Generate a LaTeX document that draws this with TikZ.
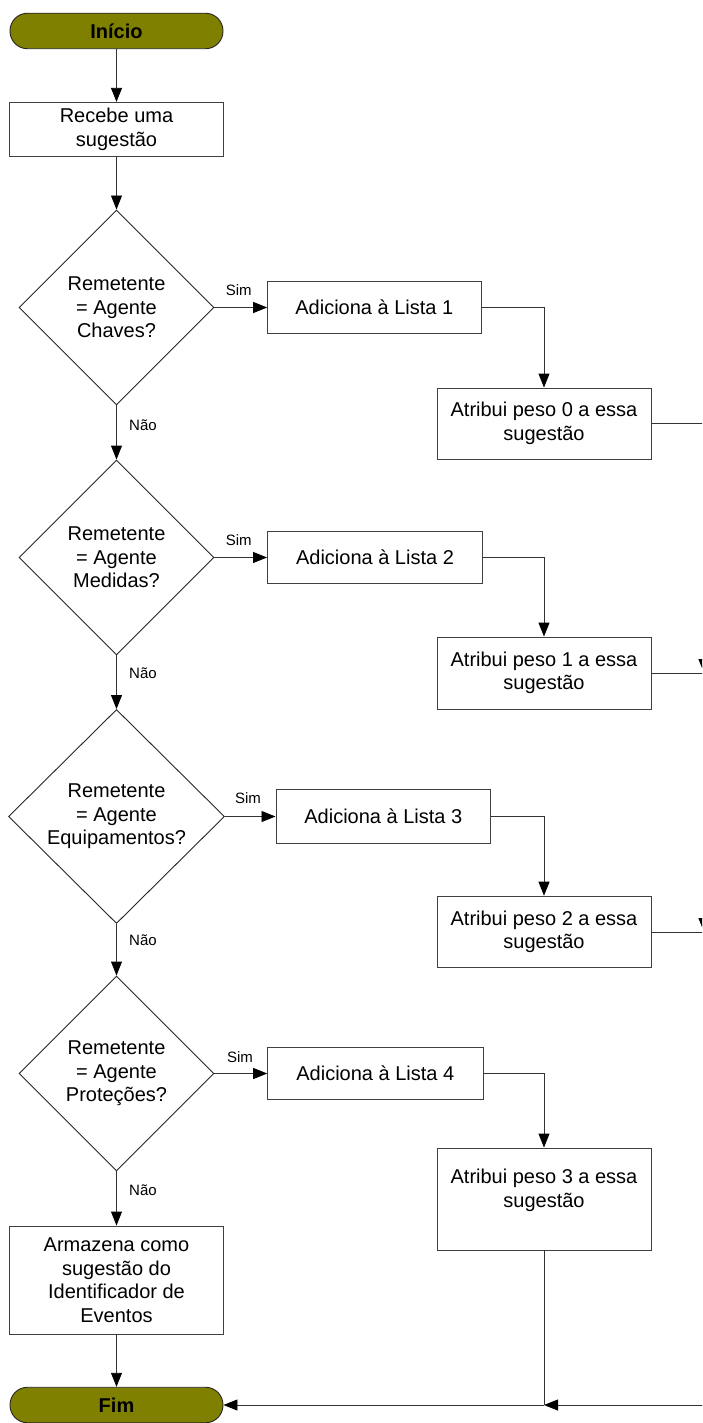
\documentclass[tikz,border=0pt]{standalone}
\usepackage{fontspec}
\setmainfont{Liberation Sans}
\usetikzlibrary{shapes.geometric,arrows.meta}
\definecolor{olivefill}{HTML}{808000}
\begin{document}
\begin{tikzpicture}[x=1pt,y=-1pt,
 every node/.style={font=\fontsize{20}{23.5}\selectfont, inner sep=0pt},
 box/.style={draw=black!75, line width=0.9pt, fill=white, minimum width=214pt, align=center},
 term/.style={draw=black!85, line width=0.9pt, fill=olivefill, rounded corners=17.5pt, minimum width=213pt, minimum height=35.5pt, font=\fontsize{20}{23.5}\selectfont\bfseries},
 dec/.style={diamond, draw=black!85, line width=0.9pt, fill=white, minimum width=195pt, minimum height=195pt, align=center},
 lbl/.style={font=\fontsize{15}{17}\selectfont},
 conn/.style={draw=black!80, line width=0.9pt},
 arr/.style={conn, -{Triangle[length=14pt,width=11pt,color=black]}},
]
\useasboundingbox (0,0) rectangle (702,1423);
\clip (0,0) rectangle (702,1423);

% left column
\node[term] (ini) at (116.5,31) {Início};
\node[box, minimum height=54pt] (rec) at (116.5,129.3) {Recebe uma\\sugestão};
\node[dec] (d1) at (116.5,307.5) {Remetente\\= Agente\\Chaves?};
\node[dec] (d2) at (116.5,557.5) {Remetente\\= Agente\\Medidas?};
\node[dec, minimum width=216pt, minimum height=214pt] (d3) at (116.5,816.5) {Remetente\\= Agente\\Equipamentos?};
\node[dec] (d4) at (116.5,1073.5) {Remetente\\= Agente\\Proteções?};
\node[box, minimum height=108pt] (arm) at (116.5,1280) {Armazena como\\sugestão do\\Identificador de\\Eventos};
\node[term] (fim) at (116.5,1405) {Fim};

% middle column
\node[box, minimum width=213.3pt, minimum height=52pt] (a1) at (374.3,307.5) {Adiciona à Lista 1};
\node[box, minimum width=215pt, minimum height=52pt] (a2) at (375,557.5) {Adiciona à Lista 2};
\node[box, minimum width=214.7pt, minimum height=53.4pt] (a3) at (383.3,816.5) {Adiciona à Lista 3};
\node[box, minimum width=215.3pt, minimum height=52pt] (a4) at (375.3,1073.5) {Adiciona à Lista 4};

% right column
\node[box, minimum height=71pt] (w1) at (544,423.5) {Atribui peso 0 a essa\\sugestão};
\node[box, minimum height=72pt] (w2) at (544,673) {Atribui peso 1 a essa\\sugestão};
\node[box, minimum height=71.7pt] (w3) at (544,932) {Atribui peso 2 a essa\\sugestão};
\node[box, minimum height=102pt] (w4) at (544,1199) {};
\node[align=center] (w4t) at (544,1190.5) {Atribui peso 3 a essa\\sugestão};

% labels
\node[lbl] (s1) at (238.8,290) {Sim};
\node[lbl] (s2) at (238.8,540) {Sim};
\node[lbl] (s3) at (248,798) {Sim};
\node[lbl] (s4) at (240,1056.7) {Sim};
\node[lbl, anchor=west] (n1) at (129,425) {Não};
\node[lbl, anchor=west] (n2) at (129,673) {Não};
\node[lbl, anchor=west] (n3) at (129,940) {Não};
\node[lbl, anchor=west] (n4) at (129,1190) {Não};

% coordinates beyond the right edge
\coordinate (r1) at (704,423.5);
\coordinate (r2) at (704,673);
\coordinate (r3) at (704,932);
\coordinate (r4) at (704,1405);
\coordinate (j) at (544,1405);

% connectors left column
\draw[arr] (ini) -- (rec);
\draw[arr] (rec) -- (d1);
\draw[arr] (d1.south) -- (d2.north);
\draw[arr] (d2.south) -- (d3.north);
\draw[arr] (d3.south) -- (d4.north);
\draw[arr] (d4.south) -- (arm.north);
\draw[arr] (arm.south) -- (fim.north);

% yes branches
\draw[arr] (d1.east) -- (a1.west);
\draw[arr] (d2.east) -- (a2.west);
\draw[arr] (d3.east) -- (a3.west);
\draw[arr] (d4.east) -- (a4.west);
\draw[arr] (a1.east) -| (w1.north);
\draw[arr] (a2.east) -| (w2.north);
\draw[arr] (a3.east) -| (w3.north);
\draw[arr] (a4.east) -| (w4.north);

% right side return
\draw[conn] (w1.east) -- (r1);
\draw[arr] (r1) -- (r2);
\draw[conn] (w2.east) -- (r2);
\draw[arr] (r2) -- (r3);
\draw[conn] (w3.east) -- (r3);
\draw[conn] (r3) -- (r4);
\draw[arr] (r4) -- (j);
\draw[conn] (w4.south) -- (j);
\draw[arr] (j) -- (fim.east);
\end{tikzpicture}
\end{document}
